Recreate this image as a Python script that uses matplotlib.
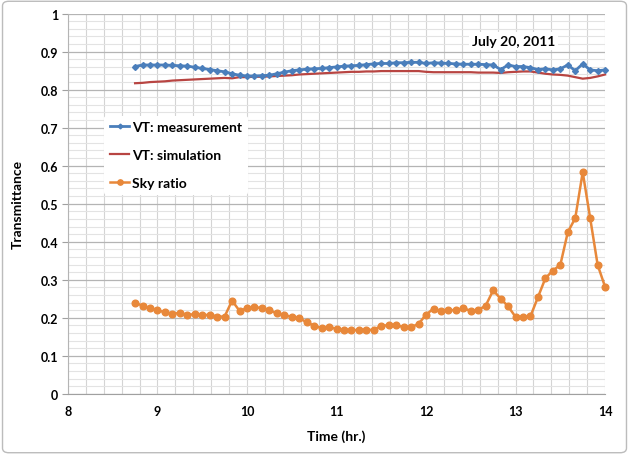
import numpy as np
import matplotlib
matplotlib.use("Agg")
import matplotlib.pyplot as plt
from matplotlib.ticker import MultipleLocator
from matplotlib.patches import FancyBboxPatch

plt.rcParams["font.family"] = ["Lato", "DejaVu Sans"]
plt.rcParams["font.weight"] = "bold"

# -------- Data (5-min samples, 8:45 -> 14:00) --------
time_hr = 8.75 + np.arange(64) / 12.0

vt_measured = [
    0.861, 0.865, 0.865, 0.865, 0.865, 0.864, 0.863, 0.862, 0.859, 0.856,
    0.853, 0.850, 0.847, 0.842, 0.838, 0.836, 0.836, 0.837, 0.838, 0.842,
    0.846, 0.850, 0.852, 0.854, 0.855, 0.856, 0.858, 0.860, 0.862, 0.863,
    0.864, 0.866, 0.868, 0.869, 0.869, 0.871, 0.871, 0.872, 0.872, 0.869,
    0.871, 0.870, 0.869, 0.868, 0.867, 0.867, 0.867, 0.866, 0.865, 0.853,
    0.865, 0.861, 0.861, 0.858, 0.853, 0.855, 0.852, 0.855, 0.865, 0.850,
    0.868, 0.852, 0.850, 0.852,
]

vt_simulated = [
    0.817, 0.818, 0.820, 0.821, 0.822, 0.824, 0.825, 0.826, 0.827, 0.828,
    0.829, 0.830, 0.831, 0.830, 0.833, 0.833, 0.834, 0.834, 0.835, 0.836,
    0.837, 0.838, 0.840, 0.841, 0.842, 0.843, 0.844, 0.845, 0.846, 0.847,
    0.847, 0.848, 0.848, 0.849, 0.849, 0.849, 0.849, 0.849, 0.849, 0.847,
    0.846, 0.846, 0.846, 0.846, 0.846, 0.846, 0.845, 0.845, 0.845, 0.844,
    0.846, 0.847, 0.848, 0.848, 0.845, 0.842, 0.840, 0.839, 0.837, 0.833,
    0.829, 0.831, 0.835, 0.840,
]

sky_ratio = [
    0.239, 0.232, 0.225, 0.220, 0.214, 0.211, 0.212, 0.208, 0.209, 0.206,
    0.208, 0.203, 0.203, 0.245, 0.218, 0.225, 0.227, 0.226, 0.219, 0.212,
    0.207, 0.202, 0.199, 0.188, 0.179, 0.173, 0.175, 0.171, 0.168, 0.167,
    0.168, 0.168, 0.168, 0.179, 0.180, 0.181, 0.175, 0.175, 0.184, 0.208,
    0.224, 0.217, 0.221, 0.219, 0.225, 0.218, 0.220, 0.232, 0.272, 0.250,
    0.230, 0.202, 0.202, 0.204, 0.254, 0.304, 0.324, 0.339, 0.425, 0.462,
    0.583, 0.462, 0.339, 0.281,
]

x_ticks = [8, 9, 10, 11, 12, 13, 14]
y_ticks = [0, 0.1, 0.2, 0.3, 0.4, 0.5, 0.6, 0.7, 0.8, 0.9, 1]

# -------- Figure --------
fig = plt.figure(figsize=(6.29, 4.56), dpi=100)
fig.patches.append(FancyBboxPatch((0.004, 0.005), 0.992, 0.99,
                                  boxstyle="round,pad=0,rounding_size=0.01",
                                  transform=fig.transFigure, fill=False,
                                  edgecolor="#bcbcbc", linewidth=1.0))
ax = fig.add_axes([0.108, 0.1344, 0.854, 0.8334])

ax.plot(time_hr, vt_measured, color="#4a7ebb", marker="D", markersize=3.0,
        linewidth=2.0, label="VT: measurement", zorder=4, clip_on=False)
ax.plot(time_hr, vt_simulated, color="#b84542", linewidth=1.6,
        label="VT: simulation", zorder=3, clip_on=False)
ax.plot(time_hr, sky_ratio, color="#e8883a", marker="o", markersize=4.8,
        linewidth=1.8, label="Sky ratio", zorder=3, clip_on=False)

ax.set_xlim(8, 14)
ax.set_ylim(0, 1)
ax.set_xticks(x_ticks)
ax.set_yticks(y_ticks)
ax.set_yticklabels(["0", "0.1", "0.2", "0.3", "0.4", "0.5", "0.6", "0.7",
                    "0.8", "0.9", "1"])
ax.xaxis.set_minor_locator(MultipleLocator(0.2))
ax.yaxis.set_minor_locator(MultipleLocator(0.02))

ax.grid(which="major", axis="y", color="#b4b4b4", linewidth=0.9)
ax.grid(which="minor", axis="y", color="#e3e3e3", linewidth=0.8)
ax.grid(which="both", axis="x", color="#d4d4d4", linewidth=0.8)
ax.set_axisbelow(True)

for side in ["top", "right"]:
    ax.spines[side].set_visible(False)
ax.spines["left"].set_color("#b4b4b4")
ax.spines["bottom"].set_color("#a0a0a0")

ax.tick_params(axis="y", which="major", length=4, color="#a0a0a0",
               labelsize=9, pad=3)
ax.tick_params(axis="x", which="major", length=0, labelsize=9, pad=8)
ax.tick_params(which="minor", length=0)
for lbl in ax.get_xticklabels() + ax.get_yticklabels():
    lbl.set_fontweight("bold")

ax.set_xlabel("Time (hr.)", fontsize=10, fontweight="bold", labelpad=9)
ax.set_ylabel("Transmittance", fontsize=10, fontweight="bold", labelpad=12)

ax.text(0.83, 0.928, "July 20, 2011", transform=ax.transAxes, ha="center",
        va="center", fontsize=10, fontweight="bold",
        bbox=dict(facecolor="white", edgecolor="none", pad=2))

leg = ax.legend(loc="upper left", bbox_to_anchor=(0.055, 0.75), fontsize=10,
                frameon=True, handlelength=1.4, handletextpad=0.2,
                labelspacing=1.15, borderpad=0.4, markerscale=0.8)
leg.get_frame().set_facecolor("white")
leg.get_frame().set_edgecolor("none")
leg.get_frame().set_alpha(1)
for t in leg.get_texts():
    t.set_fontweight("bold")

fig.savefig("out.png", dpi=100)
